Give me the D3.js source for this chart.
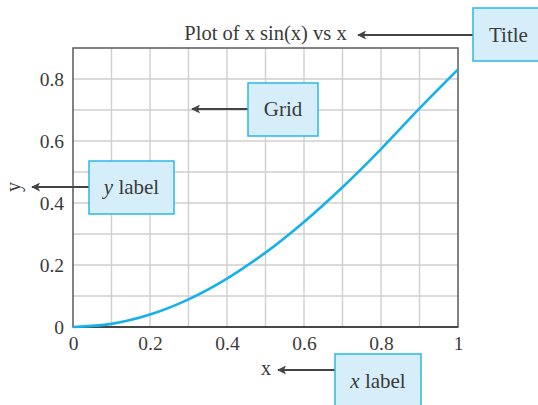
<!DOCTYPE html>
<html><head><meta charset="utf-8">
<script src="https://cdn.jsdelivr.net/npm/d3@7"></script>
<style>
body{margin:0;background:#fff;}
text{font-family:"Liberation Serif","Times New Roman",serif;fill:#3a3a3a;}
</style></head>
<body><svg id="c" width="538" height="405"></svg>
<script>
const xValues = [0, 0.1, 0.2, 0.3, 0.4, 0.5, 0.6, 0.7, 0.8, 0.9, 1.0];
const yValues = [0, 0.010, 0.040, 0.089, 0.156, 0.240, 0.339, 0.451, 0.574, 0.705, 0.831];
const xTicks = [0, 0.2, 0.4, 0.6, 0.8, 1];
const xTickLabels = ["0", "0.2", "0.4", "0.6", "0.8", "1"];
const yTicks = [0, 0.2, 0.4, 0.6, 0.8];
const yTickLabels = ["0", "0.2", "0.4", "0.6", "0.8"];
const gridX = [0.1,0.2,0.3,0.4,0.5,0.6,0.7,0.8,0.9];
const gridY = [0.1,0.2,0.3,0.4,0.5,0.6,0.7,0.8];
const titleText = "Plot of x sin(x) vs x";

const svg = d3.select("#c");
const L=73, R=458, T=48, B=327;
const x = d3.scaleLinear().domain([0,1]).range([L,R]);
const y = d3.scaleLinear().domain([0,0.9]).range([B,T]);

const defs = svg.append("defs");
defs.append("marker").attr("id","ah").attr("viewBox","0 0 10 10").attr("refX",9).attr("refY",5)
  .attr("markerWidth",11).attr("markerHeight",9).attr("markerUnits","userSpaceOnUse").attr("orient","auto")
  .append("path").attr("d","M0,0 L10,5 L0,10 L2.5,5 Z").attr("fill","#444");

// grid
svg.append("g").selectAll("line").data(gridX).join("line")
  .attr("x1",d=>x(d)).attr("x2",d=>x(d)).attr("y1",T).attr("y2",B)
  .attr("stroke","#cfcfcf").attr("stroke-width",1.4);
svg.append("g").selectAll("line").data(gridY).join("line")
  .attr("y1",d=>y(d)).attr("y2",d=>y(d)).attr("x1",L).attr("x2",R)
  .attr("stroke","#cfcfcf").attr("stroke-width",1.4);

// frame
svg.append("rect").attr("x",L).attr("y",T).attr("width",R-L).attr("height",B-T)
  .attr("fill","none").attr("stroke","#5a5a5a").attr("stroke-width",1.5);
svg.append("line").attr("x1",L).attr("x2",R).attr("y1",B).attr("y2",B).attr("stroke","#333").attr("stroke-width",1.5);

// axes tick labels
const xa = d3.axisBottom(x).tickValues(xTicks).tickFormat((d,i)=>xTickLabels[i]).tickSize(0).tickPadding(9);
const gx = svg.append("g").attr("transform",`translate(0,${B})`).call(xa);
gx.select(".domain").remove();
gx.selectAll("text").attr("font-size",19.5).style("font-family","Liberation Serif").attr("fill","#3a3a3a");
const ya = d3.axisLeft(y).tickValues(yTicks).tickFormat((d,i)=>yTickLabels[i]).tickSize(0).tickPadding(9);
const gy = svg.append("g").attr("transform",`translate(${L},0)`).call(ya);
gy.select(".domain").remove();
gy.selectAll("text").attr("font-size",19.5).style("font-family","Liberation Serif").attr("fill","#3a3a3a");

// curve
const pts = xValues.map((v,i)=>[v,yValues[i]]);
svg.append("path").datum(pts)
  .attr("d", d3.line().x(d=>x(d[0])).y(d=>y(d[1])).curve(d3.curveCatmullRom))
  .attr("fill","none").attr("stroke","#16b1ea").attr("stroke-width",2.6);

// title & labels
svg.append("text").attr("x",265.5).attr("y",39.5).attr("text-anchor","middle").attr("font-size",20.5).text(titleText);
svg.append("text").attr("x",266).attr("y",375).attr("text-anchor","middle").attr("font-size",20).text("x");
svg.append("text").attr("transform","translate(20,187) rotate(-90)").attr("text-anchor","middle").attr("font-size",20).text("y");

// callouts
function callout(bx,by,bw,bh,ax2,ay,ty,content){
  svg.append("line").attr("x1",bx).attr("x2",ax2).attr("y1",ay).attr("y2",ay)
    .attr("stroke","#444").attr("stroke-width",1.8).attr("marker-end","url(#ah)");
  svg.append("rect").attr("x",bx).attr("y",by).attr("width",bw).attr("height",bh)
    .attr("fill","#d6eefa").attr("stroke","#2bb7ea").attr("stroke-width",1.5);
  const t = svg.append("text").attr("x",bx+bw/2).attr("y",ty).attr("text-anchor","middle").attr("font-size",21);
  content(t);
}
callout(473,8,71,53,358,35,42,t=>t.text("Title"));
callout(248,83,70,53,192,109,116,t=>t.text("Grid"));
callout(89,161,85,53,32,187,194,t=>{t.append("tspan").attr("font-style","italic").text("y");t.append("tspan").text(" label");});
callout(335,354,86,60,278,370,388,t=>{t.append("tspan").attr("font-style","italic").text("x");t.append("tspan").text(" label");});
</script></body></html>
